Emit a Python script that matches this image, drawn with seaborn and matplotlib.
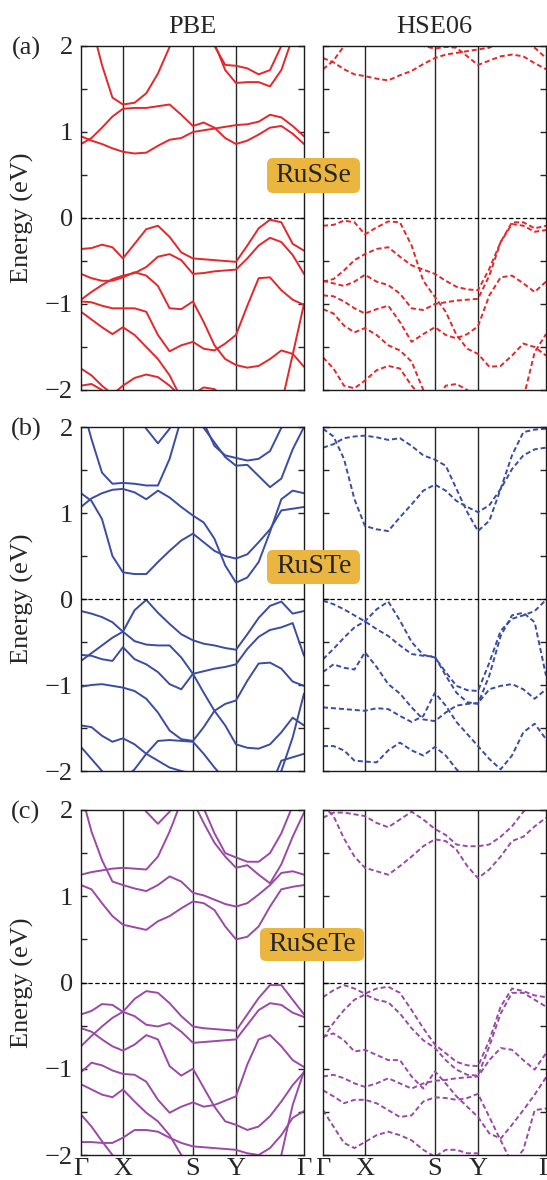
import numpy as np
import pandas as pd
import matplotlib
matplotlib.use("Agg")
import matplotlib.pyplot as plt
from matplotlib.patches import FancyBboxPatch
from matplotlib.ticker import MultipleLocator
import seaborn as sns

sns.set_style("white")
plt.rcParams['font.family'] = ['Liberation Serif', 'DejaVu Serif']

# k-path
K_LABELS = ['Γ', 'X', 'S', 'Y', 'Γ']
K_NODES = [0.0, 0.188, 0.502, 0.695, 1.0]
K_STEPS = [4, 6, 4, 6]
K = [K_NODES[0]]
for a, b, n in zip(K_NODES[:-1], K_NODES[1:], K_STEPS):
    K += list(np.linspace(a, b, n + 1)[1:])

MATERIALS = ['RuSSe', 'RuSTe', 'RuSeTe']
PANEL_TAGS = ['(a)', '(b)', '(c)']
METHODS = ['PBE', 'HSE06']
COLORS = ['#e5262b', '#3a4ca3', '#9a4aa6']

LO = -2.3  # below the window
# ---- energies (eV), one list per band ----
PBE_RUSSE = [
    [0.86, 0.93, 1.05, 1.18, 1.27, 1.28, 1.28, 1.30, 1.32, 1.20, 1.07, 1.11, 1.05, 0.93, 0.86, 0.90, 0.97, 1.05, 1.07, 0.98, 0.86],
    [0.95, 0.90, 0.86, 0.81, 0.77, 0.75, 0.76, 0.84, 0.91, 0.93, 1.00, 1.02, 1.04, 1.06, 1.08, 1.09, 1.12, 1.20, 1.17, 1.07, 0.95],
    [2.7, 2.25, 1.78, 1.40, 1.32, 1.34, 1.45, 1.68, 1.99, 2.3, 2.6, 2.8, 2.9, 3.0, 3.0, 3.0, 3.0, 3.0, 3.0, 2.9, 2.7],
    [2.6, 2.7, 2.8, 2.9, 3.0, 3.0, 3.0, 2.8, 2.6, 2.45, 2.3, 2.15, 2.0, 1.78, 1.77, 1.74, 1.67, 1.72, 2.0, 2.3, 2.6],
    [2.6, 2.7, 2.8, 2.9, 3.0, 3.0, 3.0, 2.9, 2.75, 2.6, 2.45, 2.25, 2.03, 1.72, 1.57, 1.58, 1.58, 1.53, 1.72, 2.1, 2.6],
    [-0.36, -0.35, -0.31, -0.34, -0.47, -0.30, -0.13, -0.09, -0.22, -0.40, -0.47, -0.48, -0.49, -0.50, -0.51, -0.32, -0.12, -0.02, -0.05, -0.30, -0.38],
    [-0.95, -0.86, -0.78, -0.71, -0.67, -0.64, -0.57, -0.45, -0.42, -0.49, -0.65, -0.64, -0.62, -0.61, -0.60, -0.47, -0.32, -0.23, -0.28, -0.43, -0.65],
    [-0.65, -0.70, -0.73, -0.73, -0.69, -0.63, -0.67, -0.79, -1.05, -1.06, -0.97, -1.21, -1.48, -1.64, -1.71, -1.74, -1.72, -1.64, -1.54, -1.58, -1.73],
    [-0.97, -0.98, -1.02, -1.05, -1.05, -1.05, -1.09, -1.36, -1.55, -1.48, -1.44, -1.52, -1.54, -1.46, -1.36, -1.02, -0.70, -0.69, -0.84, -0.95, -1.01],
    [-1.09, -1.18, -1.27, -1.35, -1.27, -1.36, -1.50, -1.64, -1.83, -2.10, LO, LO, LO, LO, LO, LO, LO, LO, -2.17, -1.59, -1.00],
    [-1.75, -1.83, -1.95, -2.05, -1.95, -1.86, -1.82, -1.85, -1.95, -2.08, -2.05, -1.97, -1.99, -2.10, -2.20, LO, LO, LO, LO, LO, LO],
    [-1.95, -1.93, -2.00, -2.10, -2.20, LO, LO, LO, LO, LO, LO, LO, LO, LO, LO, LO, LO, LO, LO, LO, LO],
]
HSE_RUSSE = [
    [1.86, 1.81, 1.73, 1.67, 1.65, 1.62, 1.60, 1.66, 1.71, 1.79, 1.86, 1.90, 1.92, 1.94, 1.96, 1.98, 2.05, 2.15, 2.10, 1.98, 1.86],
    [1.73, 1.83, 2.0, 2.2, 2.3, 2.3, 2.2, 2.1, 2.05, 2.0, 1.97, 1.99, 1.98, 1.88, 1.78, 1.83, 1.88, 1.90, 1.88, 1.80, 1.73],
    [-0.09, -0.08, -0.03, -0.05, -0.19, -0.11, -0.04, -0.05, -0.32, -0.73, -0.92, -1.09, -1.36, -1.52, -1.58, -1.73, -1.72, -1.60, -1.46, -1.50, -1.60],
    [-0.74, -0.71, -0.61, -0.49, -0.42, -0.36, -0.34, -0.45, -0.55, -0.60, -0.65, -0.73, -0.80, -0.83, -0.84, -0.59, -0.28, -0.05, -0.05, -0.12, -0.09],
    [-0.73, -0.76, -0.79, -0.74, -0.66, -0.74, -0.78, -0.88, -1.05, -1.07, -1.00, -0.98, -0.96, -0.95, -0.94, -0.67, -0.28, -0.07, -0.09, -0.16, -0.14],
    [-0.90, -0.91, -0.97, -1.05, -1.11, -1.06, -1.02, -1.21, -1.44, -1.35, -1.27, -1.36, -1.40, -1.35, -1.26, -0.90, -0.69, -0.67, -0.76, -0.86, -0.74],
    [-1.06, -1.11, -1.25, -1.33, -1.28, -1.36, -1.48, -1.54, -1.67, -2.00, -2.20, LO, LO, LO, LO, LO, LO, LO, -2.10, -1.56, -1.35],
    [-1.62, -1.75, -1.95, -1.98, -1.89, -1.77, -1.72, -1.75, -1.95, -2.10, -2.15, -1.95, -1.93, -2.00, -2.10, -2.20, -2.20, -2.20, -2.20, -2.20, -2.20],
]
PBE_RUSTE = [
    [1.23, 1.14, 0.93, 0.50, 0.31, 0.29, 0.29, 0.43, 0.56, 0.68, 0.76, 0.66, 0.56, 0.50, 0.47, 0.52, 0.66, 0.81, 1.03, 1.05, 1.07],
    [1.07, 1.17, 1.23, 1.27, 1.28, 1.24, 1.16, 1.26, 1.18, 1.07, 0.97, 0.89, 0.70, 0.39, 0.19, 0.25, 0.43, 0.78, 1.16, 1.26, 1.23],
    [2.3, 1.86, 1.47, 1.34, 1.35, 1.34, 1.32, 1.32, 1.63, 2.1, 2.4, 2.6, 2.7, 2.8, 2.8, 2.8, 2.8, 2.8, 2.7, 2.5, 2.3],
    [2.6, 2.6, 2.6, 2.5, 2.4, 2.2, 1.98, 1.81, 1.98, 2.2, 2.4, 2.6, 2.6, 2.6, 2.6, 2.6, 2.6, 2.6, 2.6, 2.6, 2.6],
    [2.6, 2.6, 2.6, 2.6, 2.6, 2.6, 2.6, 2.6, 2.6, 2.45, 2.3, 2.05, 1.78, 1.67, 1.64, 1.61, 1.63, 1.72, 1.99, 2.3, 2.6],
    [2.7, 2.7, 2.7, 2.7, 2.7, 2.7, 2.7, 2.7, 2.7, 2.5, 2.2, 1.99, 1.82, 1.65, 1.55, 1.56, 1.43, 1.30, 1.40, 1.74, 2.0],
    [-0.72, -0.63, -0.54, -0.45, -0.38, -0.13, -0.01, -0.16, -0.29, -0.41, -0.48, -0.52, -0.54, -0.57, -0.59, -0.41, -0.22, -0.08, -0.03, -0.17, -0.14],
    [-0.14, -0.17, -0.21, -0.27, -0.38, -0.49, -0.53, -0.54, -0.54, -0.68, -0.87, -0.84, -0.81, -0.79, -0.76, -0.58, -0.44, -0.36, -0.33, -0.28, -0.66],
    [-0.65, -0.66, -0.70, -0.72, -0.56, -0.70, -0.76, -0.85, -0.99, -1.05, -0.87, -1.09, -1.30, -1.47, -1.69, -1.73, -1.74, -1.69, -1.55, -1.38, -1.47],
    [-1.02, -1.00, -0.99, -1.01, -1.03, -1.07, -1.16, -1.32, -1.53, -1.63, -1.65, -1.49, -1.30, -1.22, -1.18, -0.95, -0.75, -0.74, -0.81, -0.96, -1.01],
    [-1.47, -1.49, -1.59, -1.66, -1.62, -1.69, -1.80, -1.88, -1.96, -2.00, -2.03, -2.10, -2.20, LO, LO, LO, LO, -2.20, -2.00, -1.61, -1.10],
    [-1.72, -1.86, -2.00, -2.15, -2.10, -1.98, -1.80, -1.65, -1.64, -1.65, -1.66, -1.80, -1.96, -2.10, -2.20, -2.20, -2.20, -2.20, -1.88, -1.84, -1.80],
]
HSE_RUSTE = [
    [1.98, 1.89, 1.63, 1.16, 0.85, 0.81, 0.79, 0.95, 1.10, 1.26, 1.33, 1.26, 1.14, 1.07, 1.01, 1.09, 1.28, 1.51, 1.67, 1.74, 1.76],
    [1.76, 1.80, 1.87, 1.89, 1.90, 1.88, 1.85, 1.87, 1.78, 1.67, 1.62, 1.55, 1.28, 1.01, 0.79, 0.91, 1.28, 1.67, 1.94, 1.97, 1.98],
    [-0.70, -0.58, -0.45, -0.33, -0.26, -0.12, -0.03, -0.25, -0.50, -0.65, -0.68, -0.85, -1.01, -1.06, -1.07, -0.74, -0.37, -0.23, -0.19, -0.14, -0.01],
    [-0.02, -0.06, -0.12, -0.19, -0.26, -0.35, -0.43, -0.54, -0.64, -0.66, -0.67, -0.89, -1.09, -1.20, -1.22, -0.89, -0.43, -0.19, -0.16, -0.27, -0.89],
    [-0.85, -0.76, -0.80, -0.82, -0.62, -0.79, -0.99, -1.10, -1.26, -1.40, -1.42, -1.32, -1.24, -1.22, -1.21, -1.05, -1.01, -0.99, -1.05, -1.16, -1.05],
    [-1.26, -1.27, -1.28, -1.29, -1.30, -1.27, -1.28, -1.36, -1.43, -1.36, -1.09, -1.24, -1.43, -1.57, -1.71, -1.86, -1.98, -1.82, -1.55, -1.45, -1.63],
    [-1.71, -1.71, -1.76, -1.88, -1.89, -1.90, -1.76, -1.67, -1.76, -1.82, -1.72, -1.82, -1.98, -2.10, -2.15, -2.20, -2.20, -2.20, -2.10, -2.05, -2.10],
]
PBE_RUSETE = [
    [1.13, 1.08, 0.92, 0.77, 0.67, 0.64, 0.61, 0.71, 0.77, 0.86, 0.94, 0.92, 0.84, 0.65, 0.50, 0.53, 0.65, 0.88, 1.08, 1.11, 1.13],
    [1.25, 1.28, 1.30, 1.32, 1.33, 1.32, 1.31, 1.46, 1.75, 2.1, 2.4, 2.6, 2.7, 2.8, 2.8, 2.8, 2.8, 2.8, 2.8, 2.7, 2.6],
    [2.2, 1.75, 1.42, 1.17, 1.13, 1.09, 1.06, 1.13, 1.23, 1.17, 1.04, 1.01, 0.96, 0.91, 0.88, 0.92, 1.02, 1.13, 1.27, 1.29, 1.25],
    [2.6, 2.6, 2.6, 2.5, 2.4, 2.2, 1.98, 1.84, 1.98, 2.2, 2.4, 2.6, 2.6, 2.6, 2.6, 2.6, 2.6, 2.6, 2.6, 2.6, 2.6],
    [2.6, 2.6, 2.6, 2.6, 2.6, 2.6, 2.6, 2.6, 2.6, 2.5, 2.3, 2.02, 1.73, 1.50, 1.45, 1.40, 1.40, 1.50, 1.73, 2.05, 2.3],
    [2.7, 2.7, 2.7, 2.7, 2.7, 2.7, 2.7, 2.7, 2.7, 2.5, 2.1, 1.85, 1.62, 1.46, 1.33, 1.36, 1.25, 1.15, 1.37, 1.69, 1.97],
    [-0.37, -0.33, -0.25, -0.26, -0.34, -0.19, -0.10, -0.12, -0.24, -0.39, -0.51, -0.53, -0.54, -0.55, -0.56, -0.37, -0.18, -0.03, -0.03, -0.20, -0.37],
    [-0.74, -0.62, -0.51, -0.41, -0.34, -0.39, -0.49, -0.51, -0.47, -0.57, -0.70, -0.69, -0.68, -0.67, -0.66, -0.49, -0.32, -0.24, -0.26, -0.35, -0.40],
    [-0.53, -0.57, -0.66, -0.74, -0.79, -0.72, -0.61, -0.66, -0.97, -1.08, -1.00, -1.22, -1.44, -1.61, -1.65, -1.71, -1.67, -1.55, -1.38, -1.19, -1.04],
    [-1.04, -0.93, -0.96, -1.02, -1.06, -1.07, -1.15, -1.36, -1.51, -1.44, -1.39, -1.44, -1.42, -1.37, -1.32, -0.95, -0.66, -0.61, -0.74, -0.90, -0.98],
    [-1.18, -1.24, -1.30, -1.33, -1.24, -1.38, -1.51, -1.61, -1.77, -2.00, -2.10, -2.20, LO, LO, LO, LO, LO, -2.20, -2.00, -1.42, -1.03],
    [-1.85, -1.85, -1.86, -1.86, -1.80, -1.71, -1.71, -1.73, -1.80, -1.86, -1.90, -1.91, -1.92, -1.93, -1.94, -1.98, -2.00, -1.92, -1.77, -1.57, -1.49],
    [-1.53, -1.67, -1.84, -2.00, -2.10, LO, LO, LO, LO, LO, LO, LO, LO, LO, LO, LO, LO, LO, LO, LO, LO],
]
HSE_RUSETE = [
    [2.05, 1.93, 1.67, 1.46, 1.33, 1.29, 1.25, 1.35, 1.46, 1.58, 1.66, 1.64, 1.54, 1.35, 1.21, 1.31, 1.46, 1.64, 1.69, 1.81, 1.91],
    [1.91, 1.97, 1.97, 1.95, 1.93, 1.85, 1.80, 1.89, 1.98, 1.89, 1.78, 1.71, 1.60, 1.58, 1.58, 1.60, 1.69, 1.81, 1.98, 2.1, 2.2],
    [-0.17, -0.09, -0.03, -0.07, -0.13, -0.07, -0.05, -0.12, -0.32, -0.53, -0.72, -0.82, -0.92, -0.96, -0.97, -0.67, -0.28, -0.07, -0.10, -0.15, -0.17],
    [-0.65, -0.47, -0.32, -0.20, -0.14, -0.20, -0.23, -0.36, -0.53, -0.67, -0.76, -0.90, -1.01, -1.07, -1.08, -0.74, -0.36, -0.12, -0.12, -0.20, -0.28],
    [-0.63, -0.59, -0.67, -0.80, -0.78, -0.84, -0.90, -0.90, -1.09, -1.23, -1.03, -1.17, -1.32, -1.44, -1.56, -1.75, -1.81, -1.65, -1.48, -1.30, -1.10],
    [-1.09, -1.07, -1.11, -1.17, -1.21, -1.17, -1.11, -1.17, -1.23, -1.17, -1.14, -1.13, -1.11, -1.10, -1.09, -0.90, -0.76, -0.78, -0.90, -1.01, -0.82],
    [-1.25, -1.32, -1.40, -1.36, -1.36, -1.40, -1.48, -1.56, -1.54, -1.38, -1.33, -1.34, -1.36, -1.34, -1.29, -1.56, -1.83, -2.10, -1.94, -1.48, -1.46],
    [-1.48, -1.67, -1.86, -1.92, -1.85, -1.77, -1.73, -1.77, -1.83, -1.94, -2.02, -1.94, -1.94, -1.98, -1.98, -2.10, -2.20, -2.10, -2.10, -2.10, -2.10],
]

BANDS = [[PBE_RUSSE, HSE_RUSSE], [PBE_RUSTE, HSE_RUSTE], [PBE_RUSETE, HSE_RUSETE]]


def bands_frame(bands):
    parts = [pd.DataFrame({'k': K, 'E': e, 'band': i}) for i, e in enumerate(bands)]
    return pd.concat(parts, ignore_index=True)


W, H = 547, 1180
fig = plt.figure(figsize=(W / 100, H / 100), dpi=100)

# axes boxes in pixels
col_px = [(81, 304), (323, 546)]
row_px = [(46, 390), (427, 771), (810, 1155)]
box_px = [(267, 158, 360, 193), (267, 550, 360, 584), (260, 928, 364, 961)]

for r in range(3):
    top, bot = row_px[r]
    for c in range(2):
        left, right = col_px[c]
        ax = fig.add_axes([left / W, 1 - bot / H, (right - left) / W, (bot - top) / H])
        df = bands_frame(BANDS[r][c])
        ls = '-' if c == 0 else (0, (2.6, 1.5))
        sns.lineplot(data=df, x='k', y='E', units='band', estimator=None, sort=False,
                     color=COLORS[r], lw=1.4, linestyle=ls, ax=ax, legend=False)
        for kx in K_NODES[1:-1]:
            ax.axvline(kx, color='0.15', lw=1.0, zorder=1)
        ax.axhline(0, color='black', lw=0.9, ls=(0, (3.5, 2)), zorder=3)
        ax.set_xlim(0, 1)
        ax.set_ylim(-2, 2)
        ax.yaxis.set_major_locator(MultipleLocator(1))
        ax.yaxis.set_minor_locator(MultipleLocator(0.5))
        ax.tick_params(axis='y', which='both', direction='in', length=4, width=1.0,
                       left=True, right=True, labelsize=19, pad=6, labelleft=(c == 0))
        ax.set_xticks(K_NODES)
        ax.set_xticklabels(K_LABELS)
        ax.tick_params(axis='x', length=0, labelsize=19, pad=2, labelbottom=(r == 2))
        ax.set_xlabel('')
        ax.set_ylabel('')
        for sp in ax.spines.values():
            sp.set_linewidth(1.0)
            sp.set_color('0.1')
        if r == 0:
            fig.text((left + right) / 2 / W, 1 - 27 / H, METHODS[c],
                     ha='center', va='center', fontsize=19)

    fig.text(22 / W, 1 - (top + bot) / 2 / H, 'Energy (eV)', rotation=90,
             ha='center', va='center', fontsize=19)
    fig.text(26 / W, 1 - (top + 2) / H, PANEL_TAGS[r], ha='center', va='center', fontsize=19)

    bx0, by0, bx1, by1 = box_px[r]
    fig.patches.append(FancyBboxPatch((bx0 / W, 1 - by1 / H), (bx1 - bx0) / W, (by1 - by0) / H,
                                      boxstyle='round,pad=0,rounding_size=0.011',
                                      mutation_aspect=W / H,
                                      transform=fig.transFigure, fc='#ebb640', ec='none',
                                      zorder=5))
    fig.text((bx0 + bx1) / 2 / W, 1 - (by0 + by1) / 2 / H, MATERIALS[r],
             ha='center', va='center', fontsize=20, zorder=6)

fig.savefig('out.png', dpi=100)
